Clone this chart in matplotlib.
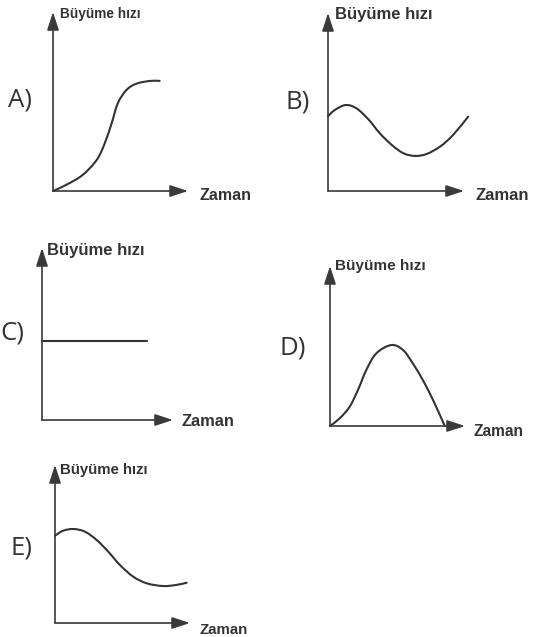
import matplotlib.pyplot as plt
from matplotlib.patches import PathPatch
from matplotlib.path import Path

W_PX, H_PX = 533, 637

# axis titles and option letters
Y_TITLE = "Büyüme hızı"
X_TITLE = "Zaman"
LETTERS = ["A)", "B)", "C)", "D)", "E)"]

# curves (time 0-10, growth rate 0-10 per panel)
A_TIME = [0, 1.0, 2.2, 3.25, 3.85, 4.35, 4.8, 5.45, 6.2, 7.2, 7.9]
A_RATE = [0, 0.35, 0.9, 1.75, 2.7, 3.8, 4.9, 5.65, 6.0, 6.15, 6.15]

B_TIME = [0, 0.5, 1.3, 2.1, 3.0, 3.8, 4.7, 5.55, 6.4, 7.25, 8.25, 9.2, 10.3]
B_RATE = [4.2, 4.55, 4.83, 4.64, 4.0, 3.25, 2.58, 2.12, 1.97, 2.08, 2.5, 3.15, 4.17]

C_TIME = [0, 8.0]
C_RATE = [4.6, 4.6]

D_TIME = [0, 0.72, 1.46, 2.07, 2.69, 3.43, 4.54, 5.41, 6.13, 6.87, 7.63, 8.5]
D_RATE = [0, 0.48, 1.21, 2.25, 3.5, 4.54, 5.06, 4.75, 3.92, 2.88, 1.63, 0]

E_TIME = [0, 0.6, 1.36, 2.22, 3.09, 3.95, 4.81, 5.8, 6.8, 8.0, 9.0, 9.75]
E_RATE = [5.53, 5.84, 5.95, 5.78, 5.25, 4.51, 3.67, 2.93, 2.51, 2.34, 2.41, 2.55]

CURVES = [(A_TIME, A_RATE), (B_TIME, B_RATE), (C_TIME, C_RATE),
          (D_TIME, D_RATE), (E_TIME, E_RATE)]

# layout in pixels: origin, x arrow tip, y arrow tip
ORIGINS = [(53, 191), (328, 191), (42, 420), (330, 426), (55, 623)]
X_TIPS = [188, 464, 173, 465, 190]
Y_TIPS = [12, 13, 248, 266, 465]
LETTER_POS = [(8, 100), (285, 102), (0, 333), (280, 348), (10, 548)]
Y_TITLE_SIZE = [9.8, 12, 12, 11, 10.8]
X_TITLE_SIZE = [11.5, 12, 11.8, 11.2, 10.8]
Y_TITLE_OFF = [(7, -2), (7, -1), (5, -2), (5, 0), (5, -5)]
X_TITLE_OFF = [(12, -4), (11, -4), (9, -2), (8, -6), (10, -7)]

AXIS_COL = "#3a3a3a"
LINE_COL = "#333333"
TEXT_COL = "#333333"


def smooth_path(xs, ys):
    # Catmull-Rom through the read points, drawn as cubic Bezier segments
    pts = list(zip(xs, ys))
    if len(pts) < 3:
        return Path(pts)
    verts = [pts[0]]
    codes = [Path.MOVETO]
    n = len(pts)
    for k in range(n - 1):
        p0 = pts[max(k - 1, 0)]
        p1 = pts[k]
        p2 = pts[k + 1]
        p3 = pts[min(k + 2, n - 1)]
        c1 = (p1[0] + (p2[0] - p0[0]) / 6, p1[1] + (p2[1] - p0[1]) / 6)
        c2 = (p2[0] - (p3[0] - p1[0]) / 6, p2[1] - (p3[1] - p1[1]) / 6)
        verts += [c1, c2, p2]
        codes += [Path.CURVE4] * 3
    return Path(verts, codes)


def draw_panel(fig, i):
    ox, oy = ORIGINS[i]
    left = ox / W_PX
    bottom = 1 - oy / H_PX
    width = (X_TIPS[i] - ox) / W_PX
    height = (oy - Y_TIPS[i]) / H_PX
    ax = fig.add_axes([left, bottom, width, height])
    ax.set_xlim(0, 10)
    ax.set_ylim(0, 10)
    ax.axis("off")

    arrow = dict(arrowstyle="-|>,head_length=11,head_width=3.6",
                 mutation_scale=1, lw=1.2, color=AXIS_COL,
                 shrinkA=0, shrinkB=0)
    ax.annotate("", xy=(10, 0), xytext=(0, 0), arrowprops=arrow,
                annotation_clip=False)
    ax.annotate("", xy=(0, 10), xytext=(0, 0), arrowprops=arrow,
                annotation_clip=False)

    xs, ys = CURVES[i]
    curve = PathPatch(smooth_path(xs, ys), fill=False, edgecolor=LINE_COL,
                      lw=1.5, capstyle="round", joinstyle="round",
                      clip_on=False)
    ax.add_patch(curve)

    ax.annotate(Y_TITLE, xy=(0, 10), xytext=Y_TITLE_OFF[i],
                textcoords="offset pixels", ha="left", va="center",
                fontsize=Y_TITLE_SIZE[i], fontweight="bold",
                family="Liberation Sans", color=TEXT_COL,
                annotation_clip=False)
    ax.annotate(X_TITLE, xy=(10, 0), xytext=X_TITLE_OFF[i],
                textcoords="offset pixels", ha="left", va="center",
                fontsize=X_TITLE_SIZE[i], fontweight="bold",
                family="Liberation Sans", color=TEXT_COL,
                annotation_clip=False)

    lx, ly = LETTER_POS[i]
    fig.text(lx / W_PX, 1 - ly / H_PX, LETTERS[i], ha="left", va="center",
             fontsize=18.5, family="Open Sans", color="#333333")


def main():
    fig = plt.figure(figsize=(W_PX / 100, H_PX / 100), dpi=100)
    fig.patch.set_facecolor("white")
    for i in range(len(LETTERS)):
        draw_panel(fig, i)
    fig.savefig("out.png", dpi=100)


if __name__ == "__main__":
    main()
